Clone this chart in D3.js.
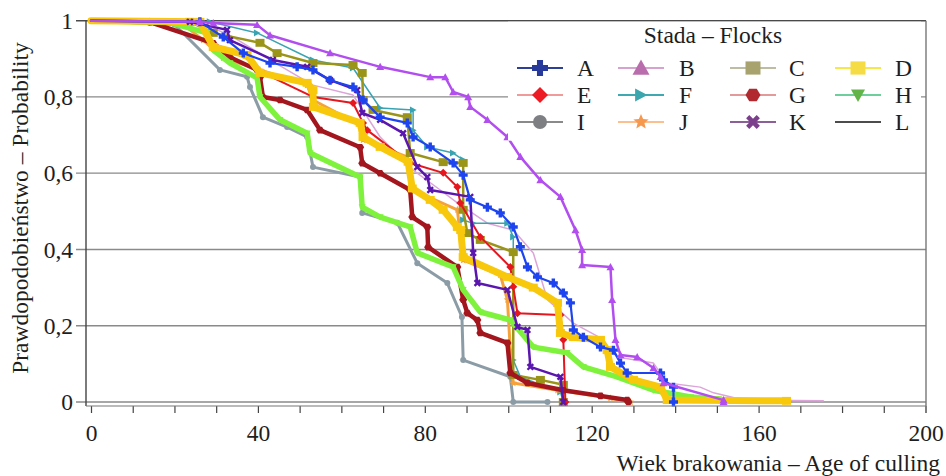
<!DOCTYPE html>
<html>
<head>
<meta charset="utf-8">
<script src="https://cdn.jsdelivr.net/npm/d3@7"></script>
<style>
  body { margin: 0; background: #fff; }
  svg { display: block; }
  text { font-family: "Liberation Serif", "Times New Roman", serif; fill: #1e1e1e; }
</style>
</head>
<body>
<svg id="chart" width="946" height="476"></svg>
<script>
// Flock identifiers, legend order (4 columns x 3 rows)
const flocks = ["A", "B", "C", "D", "E", "F", "G", "H", "I", "J", "K", "L"];

// Axis ticks
const xTickValues = [0, 10, 20, 30, 40, 50, 60, 70, 80, 90, 100, 110, 120, 130, 140, 150, 160, 170, 180, 190, 200];
const xTickLabels = [0, 40, 80, 120, 160, 200];
const yTickValues = [0, 0.2, 0.4, 0.6, 0.8, 1];
const yTickLabels = ["0", "0,2", "0,4", "0,6", "0,8", "1"];

// Kaplan–Meier survival estimates: age of culling and probability of remaining in flock
const ages_A = [0, 26.1, 31.7, 36.5, 42.9, 49.4, 53.2, 57.3, 62.8, 65.2, 69.3, 75.8, 77.2, 81.3, 86.8, 89.2, 90.9, 95.0, 98.1, 101.2, 102.9, 104.6, 107.0, 110.8, 113.2, 114.9, 115.6, 118.0, 122.1, 125.2, 126.9, 128.5, 136.5, 137.2, 139.6, 139.6];
const surv_A = [1, 0.997, 0.957, 0.915, 0.889, 0.879, 0.871, 0.844, 0.826, 0.792, 0.747, 0.732, 0.695, 0.669, 0.627, 0.595, 0.530, 0.511, 0.496, 0.459, 0.407, 0.354, 0.328, 0.312, 0.286, 0.260, 0.189, 0.170, 0.144, 0.136, 0.102, 0.076, 0.076, 0.058, 0.039, 0];

const ages_B = [0, 26.1, 29.3, 39.8, 42.9, 57.3, 69.3, 81.3, 84.9, 86.8, 90.4, 90.9, 95.0, 99.8, 102.9, 107.7, 112.5, 116.1, 117.7, 117.7, 124.5, 124.9, 125.7, 126.9, 130.9, 134.8, 136.5, 137.2, 151.6, 151.6];
const surv_B = [1, 0.997, 0.994, 0.989, 0.962, 0.915, 0.879, 0.852, 0.852, 0.813, 0.800, 0.774, 0.740, 0.695, 0.643, 0.582, 0.538, 0.451, 0.399, 0.359, 0.354, 0.268, 0.163, 0.123, 0.118, 0.089, 0.066, 0.050, 0.005, 0];

const ages_C = [0, 23.7, 29.3, 40.5, 44.6, 53.2, 62.8, 65.0, 65.2, 67.6, 75.8, 76.5, 84.4, 89.2, 89.2, 90.2, 93.3, 101.2, 101.2, 107.7, 113.2, 113.2];
const surv_C = [1, 0.997, 0.968, 0.942, 0.915, 0.889, 0.884, 0.863, 0.792, 0.766, 0.747, 0.653, 0.629, 0.627, 0.504, 0.443, 0.425, 0.393, 0.071, 0.058, 0.045, 0];

const ages_D = [0, 26.1, 29.3, 37.4, 40.5, 51.8, 53.2, 53.3, 64.5, 65.2, 69.3, 76.0, 77.0, 81.3, 84.4, 87.8, 88.6, 89.2, 99.8, 106.0, 111.8, 112.5, 115.6, 122.1, 123.7, 124.5, 130.0, 136.5, 138.1, 166.7];
const surv_D = [1, 0.997, 0.931, 0.910, 0.863, 0.837, 0.818, 0.774, 0.732, 0.695, 0.669, 0.630, 0.560, 0.530, 0.504, 0.459, 0.451, 0.380, 0.328, 0.300, 0.260, 0.181, 0.170, 0.163, 0.136, 0.092, 0.058, 0.039, 0.005, 0.003];

const ages_E = [0, 14.1, 35.7, 41.2, 53.2, 62.8, 65.2, 66.2, 76.5, 84.4, 87.8, 88.5, 93.3, 100.5, 101.2, 102.2, 112.5, 113.2, 113.7];
const surv_E = [1, 0.997, 0.915, 0.863, 0.800, 0.784, 0.732, 0.713, 0.627, 0.601, 0.564, 0.522, 0.433, 0.354, 0.302, 0.233, 0.228, 0.163, 0];

const ages_F = [0, 28.5, 39.8, 53.2, 62.8, 69.3, 77.2, 77.2, 80.6, 86.8, 89.2, 89.2, 91.6, 99.8, 101.2, 101.2, 102.9, 112.5, 113.2];
const surv_F = [1, 0.997, 0.968, 0.897, 0.876, 0.771, 0.766, 0.713, 0.669, 0.653, 0.635, 0.477, 0.469, 0.469, 0.433, 0.110, 0.066, 0.026, 0];

const ages_G = [0, 14.1, 29.3, 33.3, 39.8, 40.5, 41.2, 45.3, 51.8, 54.9, 64.5, 65.0, 69.3, 76.5, 77.0, 80.6, 80.8, 87.8, 89.2, 90.2, 92.6, 93.3, 99.8, 100.5, 104.6, 113.2, 122.1, 128.5, 128.8];
const surv_G = [1, 0.996, 0.941, 0.904, 0.871, 0.852, 0.800, 0.792, 0.766, 0.713, 0.668, 0.626, 0.600, 0.556, 0.485, 0.459, 0.406, 0.354, 0.268, 0.233, 0.215, 0.181, 0.155, 0.076, 0.050, 0.031, 0.016, 0.005, 0];

const ages_H = [0, 1.5, 18.9, 27.8, 29.3, 33.3, 39.8, 40.5, 45.3, 51.8, 52.5, 64.5, 65.0, 69.3, 76.5, 78.2, 86.8, 89.2, 93.3, 100.5, 106.0, 114.1, 118.0, 126.1, 134.8, 143.7, 150.4];
const surv_H = [1, 1, 0.995, 0.968, 0.923, 0.889, 0.850, 0.800, 0.740, 0.705, 0.653, 0.590, 0.511, 0.485, 0.459, 0.391, 0.354, 0.294, 0.236, 0.215, 0.144, 0.129, 0.092, 0.066, 0.031, 0.013, 0.008];

const ages_I = [0, 20.0, 30.9, 37.4, 38.1, 41.2, 47.0, 51.8, 53.2, 64.5, 65.0, 73.4, 78.2, 85.4, 88.9, 89.2, 100.5, 101.2, 109.4];
const surv_I = [1, 0.990, 0.871, 0.853, 0.826, 0.747, 0.721, 0.695, 0.616, 0.590, 0.496, 0.470, 0.364, 0.312, 0.223, 0.110, 0.066, 0, 0];

const ages_J = [0, 21.3, 26.9, 31.7, 40.5, 51.8, 53.2, 64.5, 65.2, 75.8, 77.2, 87.8, 89.2, 98.1, 99.8, 100.5, 101.2, 111.8, 124.5, 129.3];
const surv_J = [1, 0.997, 0.949, 0.902, 0.871, 0.831, 0.792, 0.726, 0.687, 0.643, 0.556, 0.504, 0.372, 0.333, 0.268, 0.136, 0.050, 0.031, 0.010, 0];

const ages_K = [0, 23.7, 32.6, 33.3, 43.6, 51.8, 57.3, 63.8, 65.0, 69.3, 74.8, 78.2, 80.6, 81.3, 90.9, 91.6, 92.6, 99.8, 102.2, 104.6, 105.3, 112.5, 113.2];
const surv_K = [1, 0.997, 0.976, 0.949, 0.897, 0.879, 0.844, 0.818, 0.758, 0.740, 0.705, 0.616, 0.590, 0.556, 0.538, 0.391, 0.312, 0.294, 0.197, 0.189, 0.092, 0.066, 0];

const ages_L = [0, 26.1, 34.1, 42.9, 53.2, 62.8, 69.3, 77.2, 83.7, 87.8, 95.0, 101.2, 106.0, 109.4, 115.6, 122.1, 126.1, 134.8, 138.1, 146.0, 149.2, 156.4, 175.5];
const surv_L = [1, 0.997, 0.957, 0.897, 0.831, 0.805, 0.695, 0.608, 0.556, 0.522, 0.469, 0.451, 0.391, 0.268, 0.207, 0.168, 0.118, 0.102, 0.050, 0.039, 0.024, 0.005, 0.003];

const agesByFlock = { A: ages_A, B: ages_B, C: ages_C, D: ages_D, E: ages_E, F: ages_F, G: ages_G, H: ages_H, I: ages_I, J: ages_J, K: ages_K, L: ages_L };
const survByFlock = { A: surv_A, B: surv_B, C: surv_C, D: surv_D, E: surv_E, F: surv_F, G: surv_G, H: surv_H, I: surv_I, J: surv_J, K: surv_K, L: surv_L };

// Drawing styles
const plotStyle = {
  A: { color: "#1d44ee", width: 2.2, shape: "plus", size: 4.5 },
  B: { color: "#b24ef0", width: 2.5, shape: "triUp", size: 4 },
  C: { color: "#9a9418", width: 2.5, shape: "square", size: 4.5 },
  D: { color: "#f8c80c", width: 7, shape: "square", size: 4.5 },
  E: { color: "#e5161e", width: 2, shape: "diamond", size: 4 },
  F: { color: "#3aa3b2", width: 1.5, shape: "triRight", size: 3.5 },
  G: { color: "#a3161e", width: 4.5, shape: "hex", size: 4 },
  H: { color: "#7ef23c", width: 5.5, shape: "triDown", size: 3.5 },
  I: { color: "#8c9ca6", width: 3, shape: "circle", size: 3 },
  J: { color: "#f6a23a", width: 3, shape: "star", size: 4 },
  K: { color: "#5a16ae", width: 2.5, shape: "times", size: 4 },
  L: { color: "#dca4d8", width: 1.5, shape: null, size: 0 }
};
const legendStyle = {
  A: { line: "#2e3f98", fill: "#27399a", shape: "plus", size: 8 },
  B: { line: "#d6a3d1", fill: "#b96dac", shape: "triUp", size: 8.5 },
  C: { line: "#bcbda3", fill: "#a8a26f", shape: "square", size: 7.5 },
  D: { line: "#f6e84a", fill: "#f5dc45", shape: "square", size: 7.5 },
  E: { line: "#f19a9a", fill: "#ed1c24", shape: "diamond", size: 8 },
  F: { line: "#3fa8b1", fill: "#3ba6ae", shape: "triRight", size: 6.5 },
  G: { line: "#e39a9a", fill: "#b1282e", shape: "hex", size: 7.5 },
  H: { line: "#6fcf9c", fill: "#63b448", shape: "triDown", size: 7 },
  I: { line: "#8a8a8a", fill: "#7e7f83", shape: "circle", size: 7 },
  J: { line: "#fbc08e", fill: "#f7984f", shape: "star", size: 8 },
  K: { line: "#8b5f98", fill: "#7b3f8c", shape: "times", size: 7.5 },
  L: { line: "#111111", fill: "none", shape: null, size: 0 }
};
const drawOrder = ["L", "F", "I", "J", "C", "E", "G", "H", "D", "K", "A", "B"];
const fontSize = 23.5;

function shapePath(shape, s) {
  let pts;
  switch (shape) {
    case "plus": { const t = s * 0.38; pts = [[-t,-s],[t,-s],[t,-t],[s,-t],[s,t],[t,t],[t,s],[-t,s],[-t,t],[-s,t],[-s,-t],[-t,-t]]; break; }
    case "triUp": pts = [[0,-s],[s,s*0.8],[-s,s*0.8]]; break;
    case "triDown": pts = [[-s,-s*0.8],[s,-s*0.8],[0,s]]; break;
    case "triRight": pts = [[-s*0.9,-s],[s,0],[-s*0.9,s]]; break;
    case "square": pts = [[-s,-s*0.88],[s,-s*0.88],[s,s*0.88],[-s,s*0.88]]; break;
    case "diamond": pts = [[0,-s],[s,0],[0,s],[-s,0]]; break;
    case "hex": pts = d3.range(6).map(k => [s * Math.cos(k * Math.PI / 3), s * 0.95 * Math.sin(k * Math.PI / 3)]); break;
    case "star": pts = d3.range(10).map(k => { const r = k % 2 ? s * 0.45 : s; const a = -Math.PI / 2 + k * Math.PI / 5; return [r * Math.cos(a), r * Math.sin(a)]; }); break;
    case "times": {
      const t = s * 0.3, c = Math.SQRT1_2;
      const base = [[-t,-s],[t,-s],[t,-t],[s,-t],[s,t],[t,t],[t,s],[-t,s],[-t,t],[-s,t],[-s,-t],[-t,-t]];
      pts = base.map(([a, b]) => [(a - b) * c, (a + b) * c]);
      break;
    }
    case "circle": {
      const p = d3.path(); p.arc(0, 0, s, 0, 2 * Math.PI); p.closePath(); return p.toString();
    }
    default: return "";
  }
  return "M" + pts.map(p => p[0].toFixed(2) + "," + p[1].toFixed(2)).join("L") + "Z";
}

const svg = d3.select("#chart");
const plotLeft = 86, plotRight = 926, plotTop = 20.7, zeroY = 402, axisY = 406;

const x = d3.scaleLinear().domain([0, 200]).range([91, 925.5]);
const y = d3.scaleLinear().domain([0, 1]).range([zeroY, plotTop]);

// Horizontal grid lines (with left tick stubs)
svg.append("g").selectAll("line").data(yTickValues.filter(v => v < 1)).join("line")
  .attr("x1", plotLeft - 10).attr("x2", plotRight)
  .attr("y1", d => y(d)).attr("y2", d => y(d))
  .attr("stroke", "#8a8a8a").attr("stroke-width", 1.3);

// Top frame line at probability 1
svg.append("line").attr("x1", plotLeft - 10).attr("x2", plotRight).attr("y1", y(1)).attr("y2", y(1))
  .attr("stroke", "#4a4a4a").attr("stroke-width", 1.4);

// Survival curves
const lineGen = d3.line().x(d => x(d[0])).y(d => y(d[1]));
const curves = svg.append("g").attr("class", "curves");
drawOrder.forEach(f => {
  const st = plotStyle[f];
  const pts = d3.zip(agesByFlock[f], survByFlock[f]);
  const g = curves.append("g").attr("class", "flock-" + f);
  g.append("path").attr("d", lineGen(pts))
    .attr("fill", "none").attr("stroke", st.color).attr("stroke-width", st.width)
    .attr("stroke-linejoin", "round").attr("stroke-linecap", "round");
  if (st.shape) {
    g.selectAll("path.mk").data(pts.slice(1)).join("path").attr("class", "mk")
      .attr("d", shapePath(st.shape, st.size))
      .attr("transform", d => `translate(${x(d[0])},${y(d[1])})`)
      .attr("fill", st.color);
  }
});

// Left axis
const yAxis = d3.axisLeft(y).tickValues(yTickValues).tickSize(10).tickPadding(3)
  .tickFormat((d, i) => yTickLabels[i]);
const gy = svg.append("g").attr("transform", `translate(${plotLeft},0)`).call(yAxis);
gy.select(".domain").remove();
gy.selectAll(".tick line").remove();
gy.selectAll("text").attr("font-size", fontSize).style("font-family", '"Liberation Serif", serif').attr("fill", "#1e1e1e");
svg.append("line").attr("x1", plotLeft).attr("x2", plotLeft).attr("y1", plotTop).attr("y2", axisY)
  .attr("stroke", "#444").attr("stroke-width", 1.4);

// Bottom axis
const xAxis = d3.axisBottom(x).tickValues(xTickValues).tickSize(7).tickSizeOuter(0).tickPadding(11)
  .tickFormat(d => xTickLabels.includes(d) ? d : "");
const gx = svg.append("g").attr("transform", `translate(0,${axisY})`).call(xAxis);
gx.select(".domain").remove();
gx.selectAll(".tick line").attr("stroke", "#444").attr("stroke-width", 1.2);
gx.selectAll("text").attr("font-size", fontSize).style("font-family", '"Liberation Serif", serif').attr("fill", "#1e1e1e");
svg.append("line").attr("x1", plotLeft).attr("x2", plotRight).attr("y1", axisY).attr("y2", axisY)
  .attr("stroke", "#777").attr("stroke-width", 1.2);

// Right frame
svg.append("line").attr("x1", plotRight).attr("x2", plotRight).attr("y1", plotTop).attr("y2", axisY + 7)
  .attr("stroke", "#777").attr("stroke-width", 1.4);

// Axis titles
svg.append("text").attr("transform", "translate(28,208) rotate(-90)")
  .attr("text-anchor", "middle").attr("font-size", fontSize)
  .text("Prawdopodobieństwo – Probability");
svg.append("text").attr("x", 940).attr("y", 471)
  .attr("text-anchor", "end").attr("font-size", fontSize)
  .text("Wiek brakowania – Age of culling");

// Legend
const legend = svg.append("g").attr("class", "legend");
legend.append("rect").attr("x", 508).attr("y", plotTop + 1).attr("width", plotRight - 5 - 508).attr("height", 119)
  .attr("fill", "#fff");
legend.append("text").attr("x", 713).attr("y", 43).attr("text-anchor", "middle").attr("font-size", fontSize)
  .text("Stada – Flocks");
const colLineX = [517, 618, 730, 835];
const colLabelX = [577, 679, 789, 895];
const rowY = [68, 95, 122];
flocks.forEach((f, i) => {
  const col = i % 4, row = Math.floor(i / 4);
  const st = legendStyle[f];
  const cy = rowY[row], lx = colLineX[col];
  const item = legend.append("g");
  item.append("line").attr("x1", lx).attr("x2", lx + 46).attr("y1", cy).attr("y2", cy)
    .attr("stroke", st.line).attr("stroke-width", f === "L" ? 1.6 : 1.8);
  if (st.shape) {
    item.append("path").attr("d", shapePath(st.shape, st.size))
      .attr("transform", `translate(${lx + 23},${cy})`).attr("fill", st.fill);
  }
  item.append("text").attr("x", colLabelX[col]).attr("y", cy + 8).attr("font-size", fontSize).text(f);
});
</script>
</body>
</html>
